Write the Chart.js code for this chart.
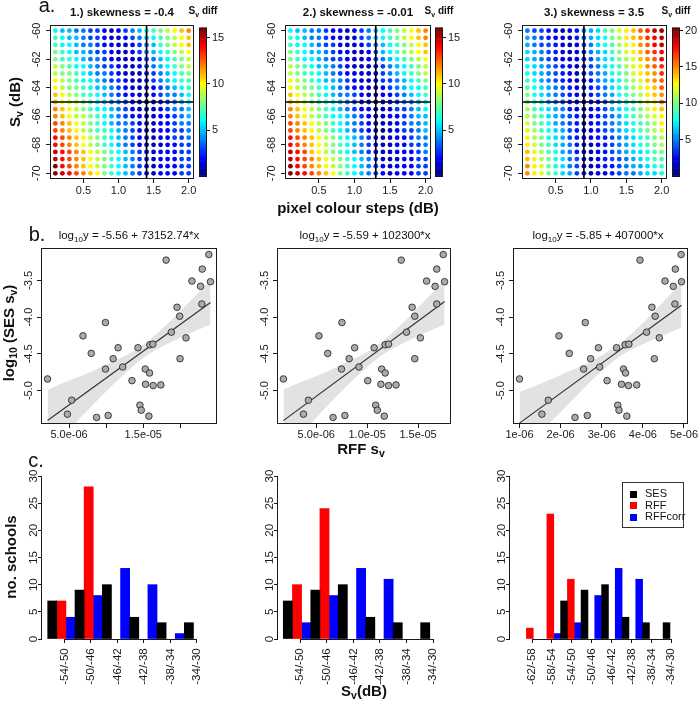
<!doctype html>
<html lang="en">
<head>
<meta charset="UTF-8">
<title>Sv comparison</title>
<style>
  body { margin: 0; background: #fff; }
  #fig { position: relative; width: 700px; height: 702px; overflow: hidden; background: #fff;
         font-family: 'Liberation Sans', Arial, sans-serif; color: #111; }
  #fig canvas { position: absolute; }
  .lab { position: absolute; white-space: nowrap; line-height: 1; transform: translate(-50%, -50%); }
  .rot { transform: translate(-50%, -50%) rotate(-90deg); }
  .sub { font-size: 70%; vertical-align: -0.3em; }
  #legend { position: absolute; box-sizing: border-box; border: 1px solid #333; background: #fff;
            font-size: 11px; padding-top: 5px; }
  #legend div { height: 11.5px; line-height: 11.5px; white-space: nowrap; }
  #legend span { display: inline-block; width: 7px; height: 7px; margin: 0 8px 0 7px; vertical-align: -0.5px; }
</style>
</head>
<body>
<div id="fig"></div>
<script src="https://cdn.jsdelivr.net/npm/chart.js"></script>
<script>
// ---- row a: Sv difference on a grid of pixel colour steps ----
const stepCols = [0.1,0.2,0.3,0.4,0.5,0.6,0.7,0.8,0.9,1.0,1.1,1.2,1.3,1.4,1.5,1.6,1.7,1.8,1.9,2.0];
const svRows = [-60,-60.5,-61,-61.5,-62,-62.5,-63,-63.5,-64,-64.5,-65,-65.5,-66,-66.5,-67,-67.5,-68,-68.5,-69,-69.5,-70];
const skewTitles = ['1.) skewness = -0.4', '2.) skewness = -0.01', '3.) skewness = 3.5'];
const bestStep = [1.4, 1.3, 0.9];
const bestSv = -65;
const diffMax = [16.1, 16.1, 20.4];
const diffTicks = [[5,10,15], [5,10,15], [5,10,15,20]];
const stepTicks = [0.5, 1.0, 1.5, 2.0];
const stepLabels = ['0.5', '1.0', '1.5', '2.0'];
const svTicks = [-70, -68, -66, -64, -62, -60];
const svLabels = ['-70', '-68', '-66', '-64', '-62', '-60'];

const svDiff1 = [
  [6,5,5,4,4,3,3,2,1,2,3,4,5,6,7,8,9,10,11,12],
  [7,6,5,5,4,3,3,2,1,1,2,3,4,5,6,7,8,9,10,11],
  [7,6,6,5,4,4,3,2,2,1,1,2,3,4,5,7,8,9,10,11],
  [8,7,6,5,5,4,3,3,2,1,1,2,3,4,5,6,7,8,9,10],
  [8,7,7,6,5,4,4,3,2,1,1,1,2,3,4,5,6,7,8,9],
  [9,8,7,6,6,5,4,3,3,2,1,1,2,3,4,5,6,7,8,9],
  [9,8,8,7,6,5,4,4,3,2,1,1,1,2,3,4,5,6,7,8],
  [10,9,8,7,6,6,5,4,3,3,2,1,1,2,3,4,5,6,7,7],
  [10,9,8,8,7,6,5,5,4,3,2,1,1,1,2,3,4,5,6,7],
  [11,10,9,8,7,7,6,5,4,3,2,2,1,1,2,3,4,4,5,6],
  [11,10,9,9,8,7,6,5,4,4,3,2,1,0,1,2,3,4,5,6],
  [12,11,10,9,8,7,6,6,5,4,3,2,1,1,1,2,3,4,4,5],
  [12,11,10,9,9,8,7,6,5,4,3,2,2,1,1,2,2,3,4,5],
  [13,12,11,10,9,8,7,6,5,4,4,3,2,1,1,2,2,3,4,4],
  [13,12,11,10,9,8,7,7,6,5,4,3,2,1,1,2,2,3,3,4],
  [14,13,12,11,10,9,8,7,6,5,4,3,2,1,1,2,2,3,3,4],
  [14,13,12,11,10,9,8,7,6,5,4,3,2,1,1,1,2,2,3,3],
  [15,14,13,12,11,10,9,8,7,6,5,4,3,2,1,2,2,2,3,3],
  [15,14,13,12,11,10,9,8,7,6,5,4,3,2,1,2,2,2,3,3],
  [16,14,13,12,11,10,9,8,7,6,5,4,3,2,1,2,2,2,3,3],
  [16,15,14,13,12,11,10,8,7,6,5,4,3,2,1,2,2,2,3,3]
];
const svDiff2 = [
  [6,5,5,4,4,3,2,2,1,2,3,4,5,6,7,8,9,10,11,12],
  [7,6,5,4,4,3,2,2,1,1,3,4,5,6,7,8,9,10,11,12],
  [7,6,6,5,4,3,3,2,1,1,2,3,4,5,6,7,8,9,10,11],
  [8,7,6,5,5,4,3,2,2,1,1,2,3,5,6,7,8,9,10,11],
  [8,7,6,6,5,4,3,3,2,1,1,2,3,4,5,6,7,8,9,10],
  [9,8,7,6,5,5,4,3,2,1,1,1,2,3,4,5,6,7,8,9],
  [9,8,7,7,6,5,4,3,2,2,1,1,2,3,4,5,6,7,8,9],
  [10,9,8,7,6,5,5,4,3,2,1,1,2,3,3,4,5,6,7,8],
  [10,9,8,8,7,6,5,4,3,2,2,1,1,2,3,4,5,6,6,7],
  [11,10,9,8,7,6,5,4,4,3,2,1,1,2,2,3,4,5,6,7],
  [11,10,9,8,7,7,6,5,4,3,2,1,0,1,2,3,4,4,5,6],
  [12,11,10,9,8,7,6,5,4,3,2,2,1,1,2,3,3,4,5,6],
  [12,11,10,9,8,7,6,6,5,4,3,2,1,1,2,2,3,4,5,5],
  [13,12,11,10,9,8,7,6,5,4,3,2,1,1,1,2,3,4,4,5],
  [13,12,11,10,9,8,7,6,5,4,3,2,1,0,1,2,3,3,4,5],
  [14,13,12,11,10,9,8,7,6,5,4,3,2,1,1,2,2,3,4,4],
  [14,13,12,11,10,9,8,7,6,5,4,3,2,1,1,2,2,3,3,4],
  [15,14,13,11,10,9,8,7,6,5,4,3,2,1,1,2,2,2,3,4],
  [15,14,13,12,11,10,9,8,7,6,5,4,3,1,1,1,2,2,3,3],
  [16,14,13,12,11,10,9,8,7,6,5,4,3,2,1,2,2,2,3,3],
  [16,15,14,13,12,11,10,8,7,6,5,4,3,2,1,2,2,2,3,3]
];
const svDiff3 = [
  [5,4,4,3,2,1,2,3,5,6,7,9,10,12,13,14,16,17,19,20],
  [6,5,4,3,2,2,1,3,4,6,7,8,10,11,13,14,15,17,18,19],
  [6,5,4,4,3,2,1,2,4,5,7,8,9,11,12,13,15,16,18,19],
  [7,6,5,4,3,2,1,2,3,5,6,7,9,10,12,13,14,16,17,18],
  [7,6,5,4,3,2,2,2,3,4,6,7,8,10,11,12,14,15,16,18],
  [8,7,6,5,4,3,2,1,3,4,5,7,8,9,11,12,13,15,16,17],
  [8,7,6,5,4,3,2,1,2,4,5,6,8,9,10,12,13,14,15,17],
  [9,8,6,5,4,3,2,1,2,3,5,6,7,8,10,11,12,14,15,16],
  [9,8,7,6,5,4,3,2,2,3,4,5,7,8,9,11,12,13,14,16],
  [10,8,7,6,5,4,3,2,1,3,4,5,6,8,9,10,11,13,14,15],
  [10,9,8,6,5,4,3,2,1,2,3,4,6,7,8,9,11,12,13,15],
  [11,9,8,7,6,5,3,2,1,2,3,4,6,7,8,9,10,12,13,14],
  [11,10,9,7,6,5,4,3,1,2,3,4,5,6,8,9,10,11,12,13],
  [12,10,9,8,6,5,4,3,1,2,3,4,5,6,7,8,9,10,11,13],
  [12,11,9,8,7,6,4,3,2,2,3,4,5,6,7,8,9,10,11,12],
  [13,11,10,8,7,6,4,3,2,2,3,3,4,5,6,7,8,9,10,11],
  [13,12,10,9,7,6,5,3,2,1,2,3,4,5,6,7,8,9,10,11],
  [14,12,11,9,8,6,5,3,2,1,2,3,4,5,6,7,7,8,9,10],
  [14,13,11,10,8,7,5,4,2,1,2,3,4,4,5,6,7,8,9,9],
  [15,13,12,10,8,7,5,4,2,1,2,3,3,4,5,6,6,7,8,9],
  [15,13,12,10,9,7,6,4,3,1,2,2,3,4,5,5,6,7,7,8]
];
const svDiff = [svDiff1, svDiff2, svDiff3];

// ---- row b: SES vs RFF volume backscatter ----
const sesLog = [-4.842,-5.321,-5.131,-4.255,-4.494,-5.366,-4.074,-4.707,-5.339,-4.566,-4.417,-4.679,
  -4.865,-4.417,-5.199,-5.267,-4.707,-4.914,-5.348,-4.761,-4.377,-4.368,-4.932,-4.923,
  -3.224,-4.205,-3.866,-3.988,-4.566,-4.282,-3.509,-3.581,-3.821,-3.346,-3.148,-3.518];
const rffSv1 = [2.10e-6,4.78e-6,5.36e-6,6.88e-6,7.99e-6,8.71e-6,9.91e-6,9.91e-6,10.27e-6,10.94e-6,11.61e-6,12.23e-6,
  13.48e-6,14.29e-6,14.55e-6,14.73e-6,15.27e-6,15.31e-6,15.76e-6,15.85e-6,15.89e-6,16.29e-6,16.34e-6,17.37e-6,
  18.08e-6,18.79e-6,19.55e-6,19.91e-6,19.96e-6,20.76e-6,21.56e-6,22.72e-6,22.90e-6,22.95e-6,23.84e-6,24.06e-6];
const rffSv2 = [1.77e-6,3.74e-6,4.23e-6,5.26e-6,6.13e-6,6.65e-6,7.52e-6,7.48e-6,7.81e-6,8.23e-6,8.77e-6,9.19e-6,
  10.06e-6,10.68e-6,10.84e-6,11.00e-6,11.42e-6,11.35e-6,11.68e-6,11.77e-6,11.77e-6,12.10e-6,12.10e-6,12.84e-6,
  13.35e-6,13.87e-6,14.42e-6,14.68e-6,14.68e-6,15.23e-6,15.84e-6,16.68e-6,16.84e-6,16.84e-6,17.48e-6,17.61e-6];
const rffSv3 = [1.00e-6,1.545e-6,1.70e-6,1.96e-6,2.21e-6,2.35e-6,2.60e-6,2.56e-6,2.65e-6,2.73e-6,2.92e-6,2.95e-6,
  3.13e-6,3.36e-6,3.39e-6,3.42e-6,3.53e-6,3.48e-6,3.61e-6,3.58e-6,3.57e-6,3.66e-6,3.65e-6,3.85e-6,
  3.93e-6,4.09e-6,4.22e-6,4.30e-6,4.28e-6,4.40e-6,4.54e-6,4.74e-6,4.78e-6,4.79e-6,4.93e-6,4.94e-6];
const rffSv = [rffSv1, rffSv2, rffSv3];
const fitIntercept = [-5.56, -5.59, -5.85];
const fitSlope = [73152.74, 102300, 407000];
const fitText = ['-5.56 + 73152.74*x', '-5.59 + 102300*x', '-5.85 + 407000*x'];
// grey confidence band
const bandX1 = [2.10e-6,4.85e-6,7.59e-6,10.34e-6,13.08e-6,15.83e-6,18.57e-6,21.32e-6,24.06e-6];
const bandX2 = [1.77e-6,3.75e-6,5.73e-6,7.71e-6,9.69e-6,11.67e-6,13.65e-6,15.63e-6,17.61e-6];
const bandX3 = [1.00e-6,1.49e-6,1.99e-6,2.48e-6,2.97e-6,3.46e-6,3.96e-6,4.45e-6,4.94e-6];
const bandUp1 = [-4.99,-4.87,-4.76,-4.63,-4.50,-4.31,-4.06,-3.78,-3.50];
const bandLo1 = [-5.83,-5.55,-5.26,-4.98,-4.72,-4.50,-4.35,-4.22,-4.10];
const bandUp2 = [-4.99,-4.87,-4.76,-4.63,-4.50,-4.31,-4.06,-3.78,-3.50];
const bandLo2 = [-5.83,-5.55,-5.26,-4.98,-4.72,-4.50,-4.35,-4.22,-4.10];
const bandUp3 = [-5.02,-4.91,-4.79,-4.67,-4.53,-4.35,-4.10,-3.82,-3.54];
const bandLo3 = [-5.86,-5.58,-5.30,-5.02,-4.75,-4.53,-4.38,-4.26,-4.14];
const bandX = [bandX1, bandX2, bandX3];
const bandUp = [bandUp1, bandUp2, bandUp3];
const bandLo = [bandLo1, bandLo2, bandLo3];
const rffRange = [[1.22e-6, 24.94e-6], [1.14e-6, 18.24e-6], [0.842e-6, 5.098e-6]];
const logRange = [-5.455, -3.059];
const logTicks = [-5.0, -4.5, -4.0, -3.5];
const logLabels = ['-5.0', '-4.5', '-4.0', '-3.5'];
const rffTicks = [[5e-6, 1e-5, 1.5e-5, 2e-5], [5e-6, 1e-5, 1.5e-5], [1e-6, 2e-6, 3e-6, 4e-6, 5e-6]];
const rffLabels = [['5.0e-06', '', '1.5e-05', ''], ['5.0e-06', '1.0e-05', '1.5e-05'],
  ['1e-06', '2e-06', '3e-06', '4e-06', '5e-06']];

// ---- row c: number of schools per Sv bin ----
const bins6 = ['-54/-50', '-50/-46', '-46/-42', '-42/-38', '-38/-34', '-34/-30'];
const bins8 = ['-62/-58', '-58/-54', '-54/-50', '-50/-46', '-46/-42', '-42/-38', '-38/-34', '-34/-30'];
const binLabels = [bins6, bins6, bins8];
const seriesNames = ['SES', 'RFF', 'RFFcorr'];
const seriesColors = ['#000000', '#ff0000', '#0000ff'];
const sesCount1 = [7, 9, 10, 4, 3, 3];
const sesCount2 = [7, 9, 10, 4, 3, 3];
const sesCount3 = [0, 0, 7, 9, 10, 4, 3, 3];
const rffCount1 = [7, 28, 0, 0, 0, 0];
const rffCount2 = [10, 24, 0, 0, 0, 0];
const rffCount3 = [2, 23, 11, 0, 0, 0, 0, 0];
const corrCount1 = [4, 8, 13, 10, 1, 0];
const corrCount2 = [3, 8, 13, 11, 0, 0];
const corrCount3 = [0, 1, 3, 8, 13, 11, 0, 0];
const countTicks = [0, 5, 10, 15, 20, 25, 30];
const groupX = [0.5, 1.5, 2.5, 3.5, 4.5, 5.5, 6.5, 7.5];
const binTickPos = [0.61, 1.58, 2.55, 3.52, 4.49, 5.46, 6.43, 7.40];
const counts = [[sesCount1, rffCount1, corrCount1], [sesCount2, rffCount2, corrCount2], [sesCount3, rffCount3, corrCount3]];

// ---- layout (page pixels) ----
const aBox = [{l:50,t:25,r:194,b:179}, {l:285,t:25,r:431,b:179}, {l:522,t:25,r:667,b:179}];
const cbBox = [{l:199,t:25,r:207,b:179}, {l:435,t:25,r:443,b:179}, {l:672,t:25,r:680,b:179}];
const bBox = [{l:41,t:248,r:217,b:424}, {l:277,t:248,r:451,b:424}, {l:513,t:248,r:688,b:424}];
const cBox = [{l:41,t:476,r:216,b:639}, {l:277,t:476,r:452,b:639}, {l:509,t:476,r:686,b:639}];
const cRange = [[-0.245, 6.158], [-0.229, 6.142], [-0.517, 8.117]];
const barW = [9.11, 9.16, 6.83];

const ink = '#1a1a1a';
Chart.defaults.font.family = "'Liberation Sans', Arial, sans-serif";
Chart.defaults.font.size = 11;
Chart.defaults.color = ink;
Chart.defaults.animation = false;
Chart.defaults.responsive = false;
Chart.defaults.events = [];
Chart.defaults.plugins.legend.display = false;
Chart.defaults.plugins.tooltip.enabled = false;

const fig = document.getElementById('fig');

const jetStops = ['#00007f','#0000ff','#007fff','#00ffff','#7fff7f','#ffff00','#ff7f00','#ff0000','#7f0000']
  .map(h => [1, 3, 5].map(i => parseInt(h.substr(i, 2), 16)));
function jet(t) {
  t = Math.max(0, Math.min(1, t));
  const p = t * (jetStops.length - 1);
  const i = Math.min(Math.floor(p), jetStops.length - 2);
  const f = p - i;
  const c = jetStops[i].map((v, j) => Math.round(v + (jetStops[i + 1][j] - v) * f));
  return `rgb(${c[0]},${c[1]},${c[2]})`;
}

function makeCanvas(box, pad) {
  const c = document.createElement('canvas');
  const w = box.r - box.l + pad.l + pad.r;
  const h = box.b - box.t + pad.t + pad.b;
  c.width = w; c.height = h;
  c.style.left = (box.l - pad.l) + 'px';
  c.style.top = (box.t - pad.t) + 'px';
  c.style.width = w + 'px';
  c.style.height = h + 'px';
  fig.appendChild(c);
  return c;
}

// R-like axis: fixed ticks, outward tick marks, no grid
function fixedAxis(o) {
  return {
    type: 'linear', position: o.position, min: o.min, max: o.max, offset: false,
    afterFit: s => { if (s.isHorizontal()) s.height = o.size; else s.width = o.size; },
    afterBuildTicks: s => { s.ticks = o.ticks.map(v => ({ value: v })); },
    grid: { offset: false, drawOnChartArea: false, drawTicks: true, tickLength: o.tl, color: ink, lineWidth: 1 },
    border: { display: !!o.border, color: ink, width: 1 },
    ticks: {
      autoSkip: false, padding: o.pad, color: ink, font: { size: o.font || 11 },
      minRotation: o.rot || 0, maxRotation: o.rot || 0,
      crossAlign: (o.rot && o.position === 'left') ? 'center' : 'near',
      callback: (v, i) => o.labels[i]
    }
  };
}

const boxPlugin = {
  id: 'rbox',
  afterDraw(chart) {
    const { ctx, chartArea: a } = chart;
    ctx.save();
    ctx.strokeStyle = ink; ctx.lineWidth = 1;
    ctx.strokeRect(a.left + 0.5, a.top + 0.5, a.right - a.left - 1, a.bottom - a.top - 1);
    ctx.restore();
  }
};

function cutPlugin(k) {
  return {
    id: 'cut',
    afterDatasetsDraw(chart) {
      const { ctx, chartArea: a, scales: { x, y } } = chart;
      const px = x.getPixelForValue(bestStep[k]);
      const py = y.getPixelForValue(bestSv);
      ctx.save();
      ctx.strokeStyle = '#000'; ctx.lineWidth = 1.6;
      ctx.beginPath();
      ctx.moveTo(px, a.top); ctx.lineTo(px, a.bottom);
      ctx.moveTo(a.left, py); ctx.lineTo(a.right, py);
      ctx.stroke();
      ctx.restore();
    }
  };
}

const xLinePlugin = {
  id: 'xline',
  afterDraw(chart) {
    const { ctx, chartArea: a, scales: { x } } = chart;
    const t = x.ticks;
    ctx.save();
    ctx.strokeStyle = ink; ctx.lineWidth = 1;
    ctx.beginPath();
    ctx.moveTo(x.getPixelForValue(t[0].value), a.bottom + 0.5);
    ctx.lineTo(x.getPixelForValue(t[t.length - 1].value), a.bottom + 0.5);
    ctx.stroke();
    ctx.restore();
  }
};

function gridPanel(k) {
  const pad = { l: 50, t: 25, r: 14, b: 22 };
  const pts = [];
  svRows.forEach((y, r) => stepCols.forEach((x, c) => pts.push({ x, y, v: svDiff[k][r][c] })));
  new Chart(makeCanvas(aBox[k], pad), {
    type: 'scatter',
    data: { datasets: [{
      data: pts, pointRadius: 2.4, pointHoverRadius: 2.4, pointBorderWidth: 0,
      pointBackgroundColor: c => c.raw ? jet(c.raw.v / diffMax[k]) : '#000'
    }] },
    options: {
      layout: { padding: { top: pad.t, right: pad.r, left: 0, bottom: 0 } },
      scales: {
        x: fixedAxis({ position: 'bottom', min: 0.024, max: 2.076, ticks: stepTicks, labels: stepLabels, size: pad.b, tl: 4, pad: 1.4 }),
        y: fixedAxis({ position: 'left', min: -70.4, max: -59.6, ticks: svTicks, labels: svLabels, size: pad.l, tl: 4, pad: 1.35, rot: 90 })
      }
    },
    plugins: [cutPlugin(k), boxPlugin]
  });
}

function colourBar(k) {
  const pad = { l: 0, t: 6, r: 26, b: 6 };
  new Chart(makeCanvas(cbBox[k], pad), {
    type: 'scatter',
    data: { datasets: [] },
    options: {
      layout: { padding: { top: pad.t, bottom: pad.b, left: 0, right: 0 } },
      scales: {
        x: { display: false, min: 0, max: 1 },
        y: fixedAxis({ position: 'right', min: 0, max: diffMax[k], ticks: diffTicks[k],
                       labels: diffTicks[k].map(String), size: pad.r, tl: 3, pad: 2 })
      }
    },
    plugins: [{
      id: 'ramp',
      afterDraw(chart) {
        const { ctx, chartArea: a, scales: { y } } = chart;
        const n = 128;
        for (let i = 0; i < n; i++) {
          const p0 = y.getPixelForValue(diffMax[k] * i / n);
          const p1 = y.getPixelForValue(diffMax[k] * (i + 1) / n);
          ctx.fillStyle = jet((i + 0.5) / n);
          ctx.fillRect(a.left, p1, a.right - a.left, p0 - p1 + 0.6);
        }
        ctx.strokeStyle = ink; ctx.lineWidth = 1;
        ctx.strokeRect(a.left + 0.5, a.top + 0.5, a.right - a.left - 1, a.bottom - a.top - 1);
      }
    }]
  });
}

function fitPanel(k) {
  const pad = { l: 41, t: 10, r: 16, b: 22 };
  const xs = rffSv[k];
  const ends = [Math.min(...xs), Math.max(...xs)];
  const clear = 'rgba(0,0,0,0)';
  new Chart(makeCanvas(bBox[k], pad), {
    type: 'line',
    data: { datasets: [
      { data: xs.map((x, i) => ({ x, y: sesLog[i] })), showLine: false, pointRadius: 3.3,
        pointBackgroundColor: '#ababab', pointBorderColor: '#1a1a1a', pointBorderWidth: 0.8 },
      { data: ends.map(x => ({ x, y: fitIntercept[k] + fitSlope[k] * x })), borderColor: '#333',
        borderWidth: 1.2, pointRadius: 0 },
      { data: bandX[k].map((x, i) => ({ x, y: bandUp[k][i] })), borderColor: clear, borderWidth: 0,
        pointRadius: 0, tension: 0.4 },
      { data: bandX[k].map((x, i) => ({ x, y: bandLo[k][i] })), borderColor: clear, borderWidth: 0,
        pointRadius: 0, tension: 0.4, fill: 2, backgroundColor: '#e2e2e2' }
    ] },
    options: {
      layout: { padding: { top: pad.t, right: pad.r, left: 0, bottom: 0 } },
      scales: {
        x: fixedAxis({ position: 'bottom', min: rffRange[k][0], max: rffRange[k][1], ticks: rffTicks[k],
                       labels: rffLabels[k], size: pad.b, tl: 4, pad: 0.4 }),
        y: fixedAxis({ position: 'left', min: logRange[0], max: logRange[1], ticks: logTicks,
                       labels: logLabels, size: pad.l, tl: 4, pad: -1.5, rot: 90 })
      }
    },
    plugins: [boxPlugin]
  });
}

function histPanel(k) {
  const pad = { l: 41, t: 10, r: 14, b: 52 };
  const n = binLabels[k].length;
  const gx = groupX.slice(0, n);
  new Chart(makeCanvas(cBox[k], pad), {
    type: 'bar',
    data: { datasets: counts[k].map((arr, s) => ({
      label: seriesNames[s],
      // empty bins get no bar at all
      data: arr.map((y, i) => ({ x: gx[i], y: y === 0 ? null : y })),
      backgroundColor: seriesColors[s], borderWidth: 0, barThickness: barW[k]
    })) },
    options: {
      layout: { padding: { top: pad.t, right: pad.r, left: 0, bottom: 0 } },
      scales: {
        x: fixedAxis({ position: 'bottom', min: cRange[k][0], max: cRange[k][1], ticks: binTickPos.slice(0, n),
                       labels: binLabels[k], size: pad.b, tl: 4, pad: 5.3, rot: 90, font: 11.5 }),
        y: fixedAxis({ position: 'left', min: 0, max: 30, ticks: countTicks, labels: countTicks.map(String),
                       size: pad.l, tl: 3, pad: -1.8, rot: 90, border: true, font: 11.5 })
      }
    },
    plugins: [xLinePlugin]
  });
}

[0, 1, 2].forEach(k => { gridPanel(k); colourBar(k); fitPanel(k); histPanel(k); });

// ---- text ----
function addLabel(html, cx, cy, size, bold, rot) {
  const d = document.createElement('div');
  d.className = 'lab' + (rot ? ' rot' : '');
  d.style.left = cx + 'px';
  d.style.top = cy + 'px';
  d.style.fontSize = size + 'px';
  if (bold) d.style.fontWeight = 'bold';
  d.innerHTML = html;
  fig.appendChild(d);
}
const sv = 'S<span class="sub">v</span>';
addLabel('a.', 47, 5, 20);
addLabel('b.', 37, 234, 20);
addLabel('c.', 36, 460, 20);
[122, 358, 594].forEach((cx, k) => addLabel(skewTitles[k], cx, 13, 11.5, true));
[203, 439, 676].forEach(cx => addLabel(sv + ' diff', cx, 12, 10, true));
[129, 365, 598].forEach((cx, k) => addLabel('log<span class="sub">10</span>y = ' + fitText[k], cx, 237, 11.5));
addLabel(sv + ' (dB)', 16, 102, 15, true, true);
addLabel('pixel colour steps (dB)', 358, 207, 15, true);
addLabel('log<span class="sub">10</span> (SES s<span class="sub">v</span>)', 10, 333, 15, true, true);
addLabel('RFF s<span class="sub">v</span>', 361, 450, 15, true);
addLabel('no. schools', 10, 557, 15, true, true);
addLabel(sv + '(dB)', 364, 692, 15, true);

const leg = document.createElement('div');
leg.id = 'legend';
leg.style.cssText = 'left:622px;top:482px;width:62px;height:46px;';
seriesNames.forEach((name, i) => {
  const row = document.createElement('div');
  row.innerHTML = `<span style="background:${seriesColors[i]}"></span>${name}`;
  leg.appendChild(row);
});
fig.appendChild(leg);
</script>
</body>
</html>
